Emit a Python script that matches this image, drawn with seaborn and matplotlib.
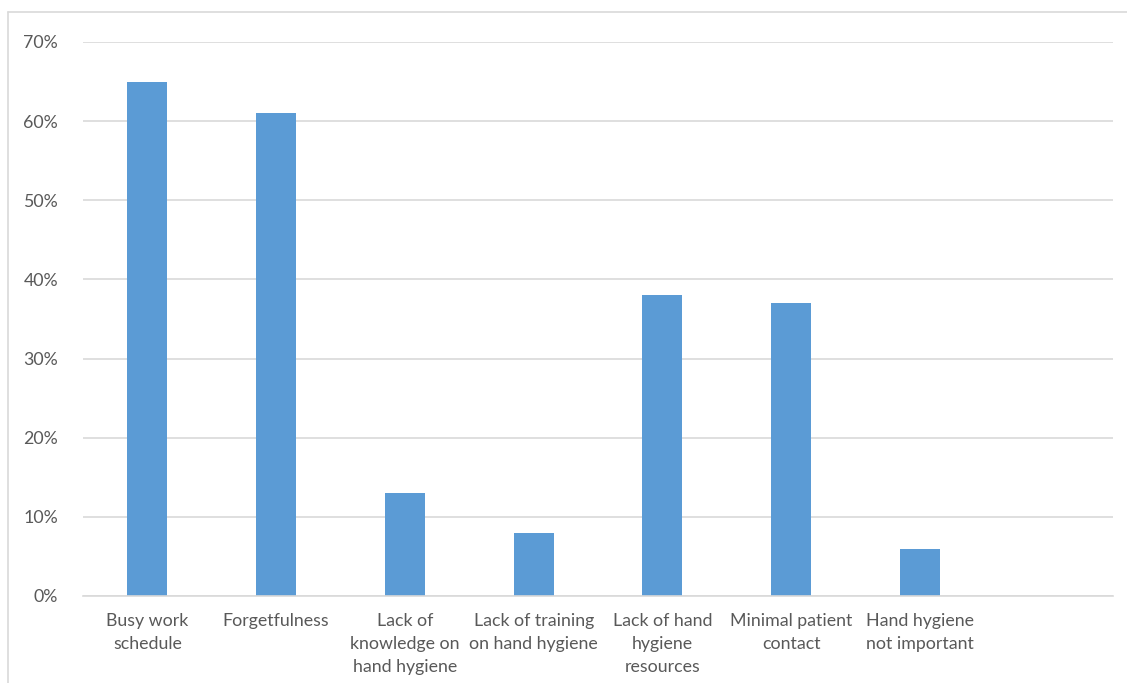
import matplotlib
matplotlib.use("Agg")
import matplotlib.pyplot as plt
from matplotlib.lines import Line2D
from matplotlib.ticker import PercentFormatter
import seaborn as sns
import pandas as pd

categories = ["Busy work\nschedule", "Forgetfulness", "Lack of\nknowledge on\nhand hygiene",
              "Lack of training\non hand hygiene", "Lack of hand\nhygiene\nresources",
              "Minimal patient\ncontact", "Hand hygiene\nnot important"]
values = [65, 61, 13, 8, 38, 37, 6]
yticks = [0, 10, 20, 30, 40, 50, 60, 70]

sns.set_theme(style="white")
plt.rcParams['font.family'] = ['Lato', 'DejaVu Sans']

df = pd.DataFrame({"cat": categories, "val": values})
fig = plt.figure(figsize=(11.27, 6.83), dpi=100)
ax = fig.add_axes([83/1127, 1-596/683, (1113-83)/1127, (596-42)/683])
sns.barplot(data=df, x="cat", y="val", color="#5b9bd5", saturation=1, width=0.31,
            linewidth=0, ax=ax)
ax.set_xlim(-0.5, 7.5)
ax.set_ylim(0, 70)
ax.set_yticks(yticks)
ax.yaxis.set_major_formatter(PercentFormatter(decimals=0))
ax.grid(axis="y", color="#d9d9d9", linewidth=1.2)
ax.set_axisbelow(True)
for s in ["top", "right", "left"]:
    ax.spines[s].set_visible(False)
ax.spines["bottom"].set_color("#d9d9d9")
ax.spines["bottom"].set_linewidth(1.2)
ax.set_xlabel("")
ax.set_ylabel("")
ax.tick_params(axis="both", length=0, labelsize=12.8, labelcolor="#595959")
ax.tick_params(axis="y", pad=18)
ax.tick_params(axis="x", pad=12)
for lab in ax.get_xticklabels():
    lab.set_linespacing(1.55)
    lab.set_verticalalignment("top")

fig.add_artist(Line2D([8/1127, 1], [1-12/683, 1-12/683], color="#d9d9d9", linewidth=1.2))
fig.add_artist(Line2D([8/1127, 8/1127], [0, 1-12/683], color="#d9d9d9", linewidth=1.2))

fig.savefig("out.png", dpi=100, facecolor="white")
